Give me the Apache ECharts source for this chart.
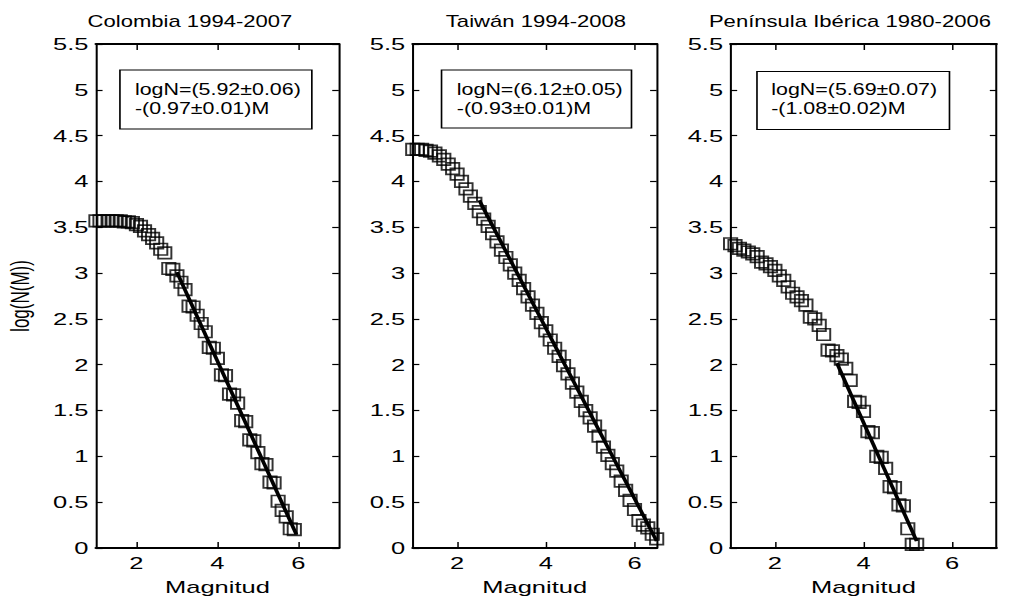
<!DOCTYPE html>
<html>
<head>
<meta charset="utf-8">
<script src="https://cdn.jsdelivr.net/npm/echarts@6/dist/echarts.min.js"></script>
<style>
  html, body { margin: 0; padding: 0; background: #fff; overflow: hidden; }
  #wrap { width: 1015px; height: 600px; overflow: hidden; }
  #chart { width: 677px; height: 600px; transform-origin: 0 0; }
</style>
</head>
<body>
<div id="wrap"><div id="chart"></div></div>
<script>
// Cumulative frequency-magnitude distributions, log10 N(>=M)
const panelTitles = ['Colombia 1994-2007', 'Taiwán 1994-2008', 'Península Ibérica 1980-2006'];

const colombiaM = [1.0, 1.1, 1.2, 1.3, 1.4, 1.5, 1.6, 1.7, 1.8, 1.9,
  2.0, 2.1, 2.2, 2.3, 2.4, 2.5, 2.6, 2.7, 2.8, 2.9,
  3.0, 3.1, 3.2, 3.3, 3.4, 3.5, 3.6, 3.7, 3.8, 3.9,
  4.0, 4.1, 4.2, 4.3, 4.4, 4.5, 4.6, 4.7, 4.8, 4.9,
  5.0, 5.1, 5.2, 5.3, 5.4, 5.5, 5.6, 5.7, 5.8, 5.9];
const colombiaLogN = [3.57, 3.57, 3.57, 3.57, 3.57, 3.57, 3.57, 3.56, 3.56, 3.55,
  3.53, 3.51, 3.46, 3.42, 3.38, 3.33, 3.26, 3.22, 3.05, 3.04,
  2.97, 2.90, 2.82, 2.64, 2.63, 2.54, 2.45, 2.36, 2.19, 2.18,
  2.07, 1.89, 1.88, 1.68, 1.67, 1.58, 1.39, 1.38, 1.18, 1.17,
  1.04, 0.92, 0.91, 0.72, 0.71, 0.51, 0.41, 0.34, 0.21, 0.20];

const taiwanM = [1.0, 1.1, 1.2, 1.3, 1.4, 1.5, 1.6, 1.7, 1.8, 1.9,
  2.0, 2.1, 2.2, 2.3, 2.4, 2.5, 2.6, 2.7, 2.8, 2.9,
  3.0, 3.1, 3.2, 3.3, 3.4, 3.5, 3.6, 3.7, 3.8, 3.9,
  4.0, 4.1, 4.2, 4.3, 4.4, 4.5, 4.6, 4.7, 4.8, 4.9,
  5.0, 5.1, 5.2, 5.3, 5.4, 5.5, 5.6, 5.7, 5.8, 5.9,
  6.0, 6.1, 6.2, 6.3, 6.4, 6.5];
const taiwanLogN = [4.35, 4.35, 4.35, 4.34, 4.33, 4.31, 4.28, 4.24, 4.19, 4.14,
  4.08, 4.00, 3.92, 3.84, 3.76, 3.67, 3.59, 3.51, 3.43, 3.34,
  3.25, 3.17, 3.09, 3.00, 2.92, 2.83, 2.74, 2.65, 2.56, 2.46,
  2.37, 2.27, 2.18, 2.09, 1.99, 1.90, 1.80, 1.70, 1.60, 1.50,
  1.42, 1.33, 1.22, 1.10, 1.01, 0.92, 0.84, 0.73, 0.63, 0.52,
  0.42, 0.30, 0.25, 0.22, 0.15, 0.10];

const iberiaM = [1.0, 1.1, 1.2, 1.3, 1.4, 1.5, 1.6, 1.7, 1.8, 1.9,
  2.0, 2.1, 2.2, 2.3, 2.4, 2.5, 2.6, 2.7, 2.8, 2.9,
  3.0, 3.1, 3.2, 3.3, 3.4, 3.5, 3.6, 3.7, 3.8, 3.9,
  4.0, 4.1, 4.2, 4.3, 4.4, 4.5, 4.6, 4.7, 4.8, 4.9,
  5.0, 5.1, 5.2];
const iberiaLogN = [3.32, 3.30, 3.27, 3.25, 3.23, 3.21, 3.18, 3.12, 3.10, 3.07,
  3.03, 2.97, 2.92, 2.85, 2.78, 2.74, 2.70, 2.65, 2.52, 2.50,
  2.43, 2.33, 2.16, 2.15, 2.10, 2.06, 1.96, 1.83, 1.60, 1.59,
  1.49, 1.27, 1.26, 1.00, 0.99, 0.87, 0.67, 0.66, 0.47, 0.46,
  0.21, 0.04, 0.04];

// Gutenberg-Richter fits: logN = a - b*M  -> [a, b]
const fitCoefs = [[5.92, 0.97], [6.12, 0.93], [5.69, 1.08]];
const fitRanges = [[3.0, 5.95], [2.5, 6.5], [3.4, 5.2]];
const fitLabels = [
  ['logN=(5.92±0.06)', '-(0.97±0.01)M'],
  ['logN=(6.12±0.05)', '-(0.93±0.01)M'],
  ['logN=(5.69±0.07)', '-(1.08±0.02)M']
];

const xMax = [7, 6.5, 7];
const xTickValues = [2, 4, 6];
const yTicks = { min: 0, max: 5.5, step: 0.5 };

// ---- layout (chart is drawn narrow and stretched horizontally) ----
const STRETCH = 1015 / 677;
const FONT = '"Liberation Sans", Arial, Helvetica, sans-serif';
const grids = [
  { left: 64, top: 44, width: 162, height: 504 },
  { left: 275.3, top: 44, width: 162.7, height: 504 },
  { left: 487.3, top: 44, width: 177.3, height: 504 }
];
const titleCenters = [126.7, 357.5, 566.9];
const boxes = [
  { x: 80, y: 70, w: 128, h: 59, tx: 90 },
  { x: 294.5, y: 70, w: 126.7, h: 58, tx: 304.7 },
  { x: 504.9, y: 71.5, w: 128.4, h: 58, tx: 514.4 }
];

const chartEl = document.getElementById('chart');
chartEl.style.transform = 'scaleX(' + STRETCH + ')';
const chart = echarts.init(chartEl, null, { renderer: 'svg' });

const black = '#000';
const xAxes = [], yAxes = [], series = [], graphic = [];

grids.forEach(function (g, i) {
  const common = {
    type: 'value', gridIndex: i, min: 1, max: xMax[i],
    splitLine: { show: false },
    axisLine: { show: true, onZero: false, lineStyle: { color: black, width: 2 } },
    axisTick: { show: true, inside: true, length: 6, customValues: xTickValues,
      lineStyle: { color: black, width: 1 } }
  };
  xAxes.push(Object.assign({}, common, {
    position: 'bottom',
    axisLabel: { customValues: xTickValues, color: black, fontSize: 17, fontFamily: FONT, margin: 7 },
    name: 'Magnitud', nameLocation: 'middle', nameGap: 31,
    nameTextStyle: { color: black, fontSize: 17, fontFamily: FONT }
  }));
  xAxes.push(Object.assign({}, common, { position: 'top', axisLabel: { show: false } }));

  const ycommon = {
    type: 'value', gridIndex: i, min: yTicks.min, max: yTicks.max, interval: yTicks.step,
    splitLine: { show: false },
    axisLine: { show: true, onZero: false, lineStyle: { color: black, width: 1.35 } },
    axisTick: { show: true, inside: true, length: 4.4, lineStyle: { color: black, width: 1.2 } }
  };
  const yLeft = Object.assign({}, ycommon, {
    position: 'left',
    axisLabel: { color: black, fontSize: 17, fontFamily: FONT, margin: 5 }
  });
  if (i === 0) {
    Object.assign(yLeft, {
      name: 'log(N(M))', nameLocation: 'middle', nameRotate: 90, nameGap: 42,
      nameTextStyle: { color: black, fontSize: 17, fontFamily: FONT }
    });
  }
  yAxes.push(yLeft);
  yAxes.push(Object.assign({}, ycommon, { position: 'right', axisLabel: { show: false } }));
});

const mags = [colombiaM, taiwanM, iberiaM];
const logs = [colombiaLogN, taiwanLogN, iberiaLogN];

mags.forEach(function (mArr, i) {
  series.push({
    type: 'scatter', xAxisIndex: 2 * i, yAxisIndex: 2 * i,
    data: mArr.map(function (m, k) { return [m, logs[i][k]]; }),
    symbol: 'rect', symbolSize: [8.8, 11.5],
    itemStyle: { color: 'rgba(0,0,0,0)', borderColor: black, borderWidth: 1.5 },
    emphasis: { disabled: true }, silent: true, z: 2
  });
  const a = fitCoefs[i][0], b = fitCoefs[i][1];
  series.push({
    type: 'line', xAxisIndex: 2 * i, yAxisIndex: 2 * i,
    data: fitRanges[i].map(function (m) { return [m, a - b * m]; }),
    symbol: 'none', lineStyle: { color: black, width: 2.6 },
    emphasis: { disabled: true }, silent: true, z: 3
  });
});

grids.forEach(function (g, i) {
  // panel title
  graphic.push({
    type: 'text', x: titleCenters[i], y: 22, scaleX: 0.92, silent: true,
    style: { text: panelTitles[i], font: '16px ' + FONT, fill: black, align: 'center', verticalAlign: 'middle' }
  });
  // fit annotation box
  const bx = boxes[i];
  graphic.push({
    type: 'rect', shape: { x: bx.x, y: bx.y, width: bx.w, height: bx.h }, z: 10, silent: true,
    style: { fill: '#fff', stroke: black, lineWidth: 1.1 }
  });
  graphic.push({
    type: 'text', x: bx.tx, y: 89.5, scaleX: 0.84, z: 11, silent: true,
    style: { text: fitLabels[i][0], font: '17px ' + FONT, fill: black, verticalAlign: 'middle' }
  });
  graphic.push({
    type: 'text', x: bx.tx, y: 108.5, scaleX: 0.84, z: 11, silent: true,
    style: { text: fitLabels[i][1], font: '17px ' + FONT, fill: black, verticalAlign: 'middle' }
  });
});

chart.setOption({
  animation: false,
  backgroundColor: '#fff',
  grid: grids.map(function (g) {
    return { left: g.left, top: g.top, width: g.width, height: g.height, outerBoundsMode: 'none' };
  }),
  xAxis: xAxes,
  yAxis: yAxes,
  series: series,
  graphic: graphic
});
</script>
</body>
</html>
